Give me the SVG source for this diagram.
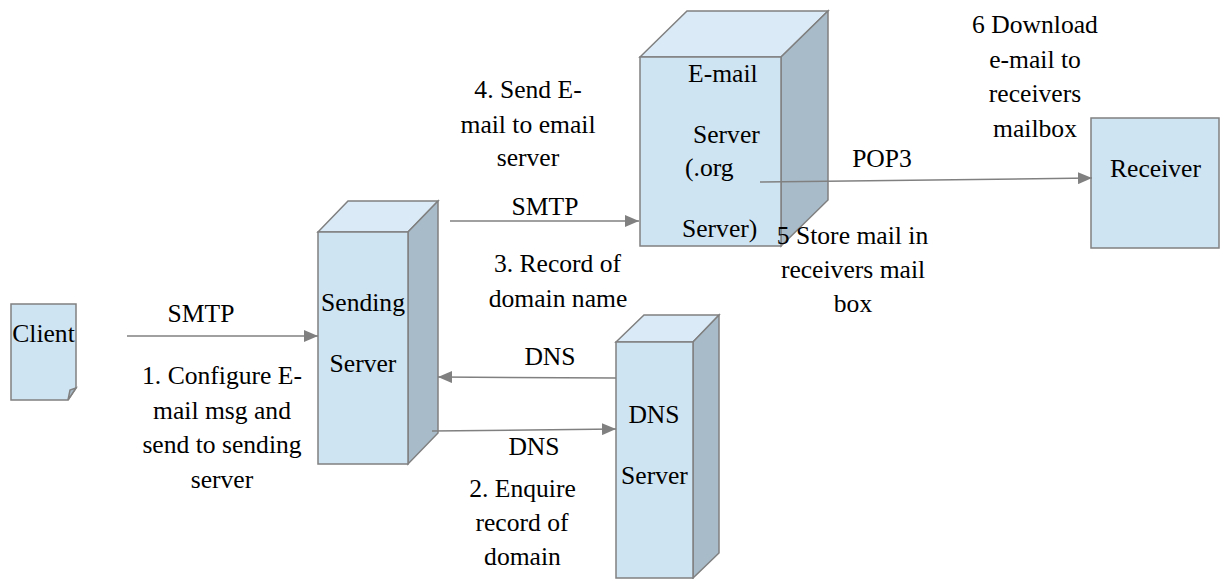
<svg xmlns="http://www.w3.org/2000/svg" width="1220" height="579" viewBox="0 0 1220 579">
<style>
text{font-size:25.6px;fill:#000}
.c{text-anchor:middle}
.front{fill:#cfe4f2;stroke:#808080;stroke-width:1.5}
.top{fill:#daeaf6;stroke:#808080;stroke-width:1.5}
.side{fill:#a8bbc9;stroke:#808080;stroke-width:1.5}
.ln{stroke:#808080;stroke-width:1.5;fill:none}
</style>
<defs>
<marker id="ah" viewBox="0 0 14 12" refX="14" refY="6" markerWidth="14" markerHeight="12" markerUnits="userSpaceOnUse" orient="auto">
<path d="M0,0 L14,6 L0,12 z" fill="#808080"/>
</marker>
</defs>
<rect width="1220" height="579" fill="#fff"/>
<g font-family="'Liberation Serif', 'DejaVu Serif', serif">

<g id="client">
<path class="front" d="M11,304 H76 V388 L68,400 H11 Z"/>
<path class="side" d="M76,388 L68,400 L70,390 Z"/>
<text x="43.5" y="342" class="c">Client</text>
</g>

<g id="sending-server">
<path class="top" d="M318,232 L348,201 H438 L408,232 Z"/>
<path class="side" d="M408,232 L438,201 V433 L408,464 Z"/>
<rect class="front" x="318" y="232" width="90" height="232"/>
<text x="363" y="311" class="c">Sending</text>
<text x="363" y="372" class="c">Server</text>
</g>

<g id="email-server">
<path class="top" d="M640,57 L687,11 H828 L781,57 Z"/>
<path class="side" d="M781,57 L828,11 V200 L781,246 Z"/>
<rect class="front" x="640" y="57" width="141" height="189"/>
<text x="688" y="82">E-mail</text>
<text x="693" y="143">Server</text>
<text x="685" y="176">(.org</text>
<text x="682" y="237">Server)</text>
</g>

<g id="dns-server">
<path class="top" d="M616,342 L644,315 H719 L693,342 Z"/>
<path class="side" d="M693,342 L719,315 V553 L693,578 Z"/>
<rect class="front" x="616" y="342" width="77" height="236"/>
<text x="654" y="423" class="c">DNS</text>
<text x="654.5" y="484" class="c">Server</text>
</g>

<g id="receiver">
<rect class="front" x="1091" y="118" width="128" height="130"/>
<text x="1155.5" y="177" class="c">Receiver</text>
</g>

<g id="connectors">
<line class="ln" x1="127" y1="336" x2="318" y2="336" marker-end="url(#ah)"/>
<line class="ln" x1="450" y1="221" x2="639" y2="221" marker-end="url(#ah)"/>
<line class="ln" x1="616" y1="378" x2="438" y2="377" marker-end="url(#ah)"/>
<line class="ln" x1="432" y1="431" x2="616" y2="429" marker-end="url(#ah)"/>
<line class="ln" x1="760" y1="182" x2="1092" y2="178" marker-end="url(#ah)"/>
</g>

<g id="labels">
<text x="201" y="322" class="c">SMTP</text>
<text x="222" y="384" class="c">1. Configure E-</text>
<text x="222" y="419" class="c">mail msg and</text>
<text x="222" y="453" class="c">send to sending</text>
<text x="222" y="488" class="c">server</text>

<text x="528" y="98" class="c">4. Send E-</text>
<text x="528" y="133" class="c">mail to email</text>
<text x="528" y="166" class="c">server</text>
<text x="545" y="215" class="c">SMTP</text>

<text x="557.5" y="272" class="c">3. Record of</text>
<text x="558" y="307" class="c">domain name</text>

<text x="550" y="365" class="c">DNS</text>
<text x="534" y="455" class="c">DNS</text>
<text x="522.5" y="497" class="c">2. Enquire</text>
<text x="522" y="531" class="c">record of</text>
<text x="522.5" y="565" class="c">domain</text>

<text x="882" y="167" class="c">POP3</text>
<text x="1035" y="33" class="c">6 Download</text>
<text x="1035" y="68" class="c">e-mail to</text>
<text x="1035" y="102" class="c">receivers</text>
<text x="1035" y="137" class="c">mailbox</text>

<text x="852.5" y="244" class="c">5 Store mail in</text>
<text x="853" y="278" class="c">receivers mail</text>
<text x="853" y="312" class="c">box</text>
</g>
</g>
</svg>
